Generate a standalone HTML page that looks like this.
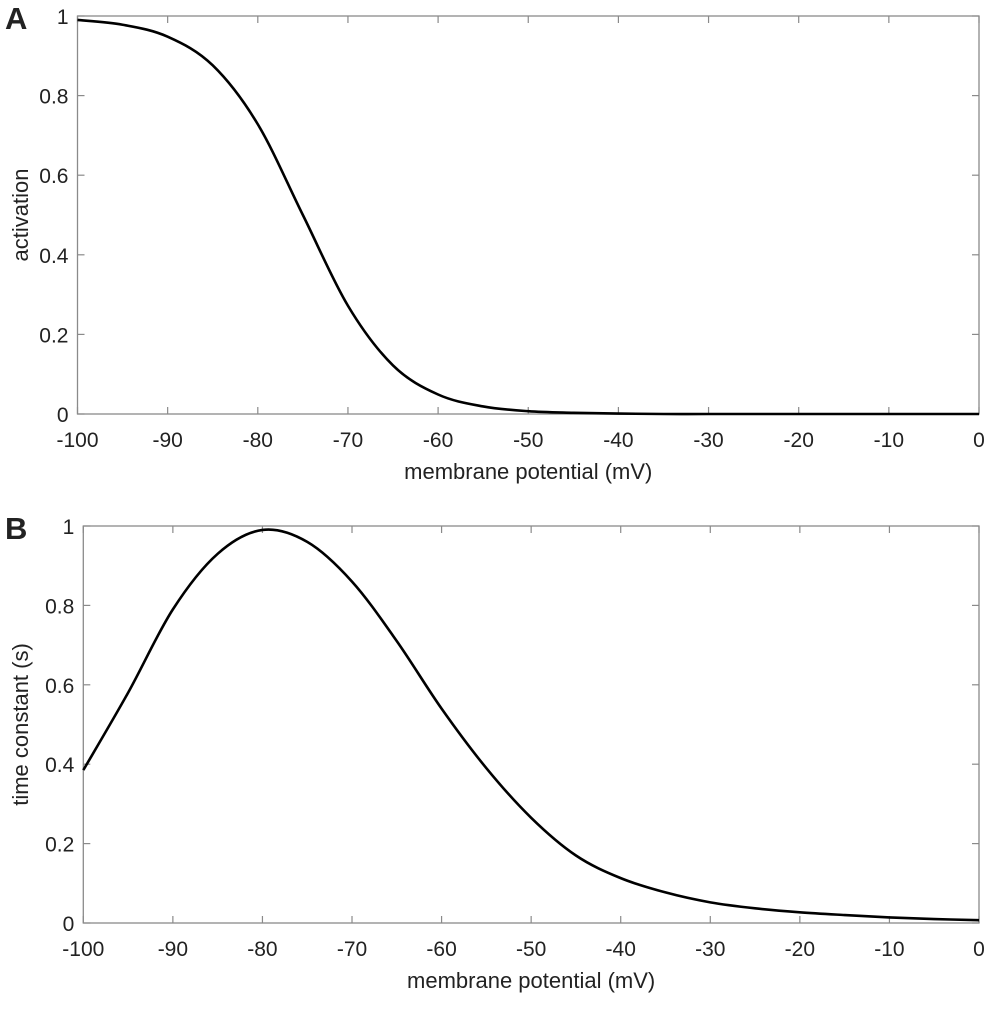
<!DOCTYPE html>
<html><head><meta charset="utf-8"><style>
body{margin:0;background:#fff}
svg text{font-family:"Liberation Sans",Arial,sans-serif;fill:#222}
</style></head><body>
<svg id="fig" width="992" height="1006" viewBox="0 0 992 1006" xmlns="http://www.w3.org/2000/svg"></svg>
<script>
const xTicks=[-100,-90,-80,-70,-60,-50,-40,-30,-20,-10,0];
const yTicks=[0,0.2,0.4,0.6,0.8,1];
const yTickLabels=["0","0.2","0.4","0.6","0.8","1"];
const voltageA=[-100,-95,-90,-85,-80,-75,-70,-65,-60,-55,-50,-45,-40,-35,-30,-25,-20,-15,-10,-5,0];
const activation=[0.99,0.978,0.948,0.876,0.728,0.5,0.272,0.122,0.049,0.019,0.007,0.003,0.001,0,0,0,0,0,0,0,0];
const voltageB=[-100,-95,-90,-85,-80,-75,-70,-65,-60,-55,-50,-45,-40,-35,-30,-25,-20,-15,-10,-5,0];
const timeConstant=[0.385,0.58,0.79,0.93,0.99,0.96,0.86,0.71,0.54,0.39,0.265,0.17,0.113,0.077,0.052,0.037,0.027,0.02,0.014,0.01,0.007];

const NS="http://www.w3.org/2000/svg";
const svg=document.getElementById('fig');
function mk(tag,attrs,parent){const e=document.createElementNS(NS,tag);for(const k in attrs)e.setAttribute(k,attrs[k]);(parent||svg).appendChild(e);return e;}

function panel(id,L,R,T,B,xs,ys,letter,ylabel){
  const g=mk('g',{});
  
  
  const sx=v=>L+(v+100)/100*(R-L);
  const sy=v=>B-v*(B-T);
  const box=mk('rect',{x:L,y:T,width:R-L,height:B-T,fill:'none',stroke:'#8a8a8a','stroke-width':1.3},g);
  
  
  xTicks.forEach(t=>{
    const x=sx(t);
    mk('line',{x1:x,x2:x,y1:B,y2:B-7,stroke:'#8a8a8a','stroke-width':1.2},g);
    mk('line',{x1:x,x2:x,y1:T,y2:T+7,stroke:'#8a8a8a','stroke-width':1.2},g);
    const tx=mk('text',{x:x,y:B+33,'font-size':21,'text-anchor':'middle'},g);
    tx.textContent=String(t);
    
    
  });
  yTicks.forEach((t,i)=>{
    const y=sy(t);
    mk('line',{x1:L,x2:L+7,y1:y,y2:y,stroke:'#8a8a8a','stroke-width':1.2},g);
    mk('line',{x1:R,x2:R-7,y1:y,y2:y,stroke:'#8a8a8a','stroke-width':1.2},g);
    const ty=mk('text',{x:L-9,y:y+8,'font-size':21,'text-anchor':'end'},g);
    ty.textContent=yTickLabels[i];
    
    
  });
  const pts=xs.map((v,i)=>[sx(v),sy(ys[i])]);
  let d='M'+pts[0][0]+','+pts[0][1];
  for(let i=0;i<pts.length-1;i++){
    const p0=pts[Math.max(0,i-1)],p1=pts[i],p2=pts[i+1],p3=pts[Math.min(pts.length-1,i+2)];
    const c1=[p1[0]+(p2[0]-p0[0])/6,p1[1]+(p2[1]-p0[1])/6];
    const c2=[p2[0]-(p3[0]-p1[0])/6,p2[1]-(p3[1]-p1[1])/6];
    d+=' C'+c1[0]+','+c1[1]+' '+c2[0]+','+c2[1]+' '+p2[0]+','+p2[1];
  }
  const line=mk('path',{d:d,fill:'none',stroke:'#000','stroke-width':2.6},g);
  
  
  const xl=mk('text',{x:(L+R)/2,y:B+65,'font-size':22,'text-anchor':'middle'},g);
  xl.textContent='membrane potential (mV)';
  
  
  const cy=(T+B)/2;
  const yl=mk('text',{x:0,y:0,'font-size':22,'text-anchor':'middle',transform:'translate(28,'+cy+') rotate(-90)'},g);
  yl.textContent=ylabel;
  
  
  const lt=mk('text',{x:5,y:T+13,'font-size':31,'font-weight':'bold'},g);
  lt.textContent=letter;
  
  
}
panel('a',77.5,979,16,414,voltageA,activation,'A','activation');
panel('b',83.3,979,526,923,voltageB,timeConstant,'B','time constant (s)');
</script>
</body></html>
